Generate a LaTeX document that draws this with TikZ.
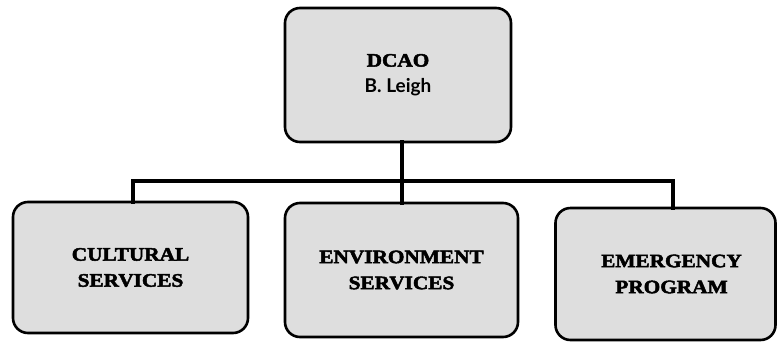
\documentclass[tikz,border=0pt]{standalone}
\usepackage{fontspec}
\newfontfamily\heavy{Liberation Serif Bold}[FakeStretch=1.12,FakeBold=2.6]
\newfontfamily\namefont{Lato Bold}
\begin{document}
\begin{tikzpicture}[x=1pt,y=1pt,
  box/.style={draw=black,line width=2.6pt,rounded corners=15pt,fill=black!13,
    align=center,inner sep=0pt,font=\heavy\fontsize{19}{26}\selectfont},
  conn/.style={line width=3.6pt,line cap=rect}]
\useasboundingbox (0,0) rectangle (777,-341);
\node[box,minimum width=226pt,minimum height=134pt] (top) at (398,-75)
  {DCAO\\{\namefont\fontsize{19}{26}\selectfont B. Leigh}};
\node[box,minimum width=235pt,minimum height=131pt] (c1) at (130.5,-267.5)
  {CULTURAL\\SERVICES};
\node[box,minimum width=233pt,minimum height=134pt] (c2) at (401.5,-270)
  {ENVIRONMENT\\SERVICES};
\node[box,minimum width=220pt,minimum height=132pt] (c3) at (665.5,-274)
  {\hspace*{12pt}EMERGENCY\\\hspace*{12pt}PROGRAM};
\coordinate (bus) at (0,-181);
\coordinate (s1) at (133,-202);
\coordinate (s2) at (402,-203);
\coordinate (s3) at (673,-208);
\coordinate (t0) at (402,-142);
\draw[conn] (t0) -- (t0 |- bus);
\draw[conn] (s1) -- (s1 |- bus) -- (s3 |- bus) -- (s3);
\draw[conn] (s2) -- (s2 |- bus);
\end{tikzpicture}
\end{document}
